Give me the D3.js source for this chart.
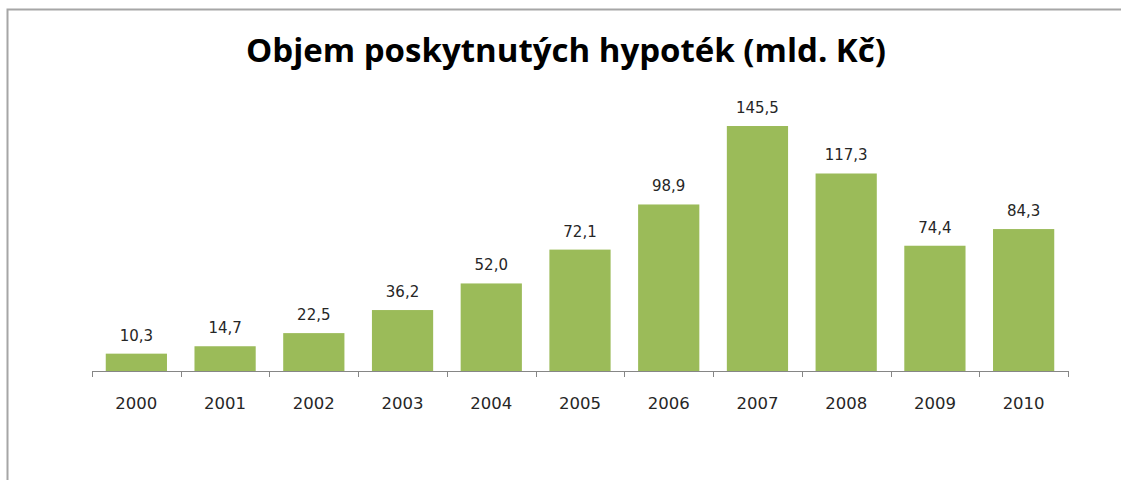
<!DOCTYPE html>
<html>
<head>
<meta charset="utf-8">
<script src="https://cdn.jsdelivr.net/npm/d3@7"></script>
<style>
  body { margin: 0; background: #fff; }
  svg { display: block; font-family: "DejaVu Sans", Verdana, sans-serif; }
</style>
</head>
<body>
<svg id="chart" width="1121" height="480"></svg>
<script>
const years = ['2000', '2001', '2002', '2003', '2004', '2005', '2006', '2007', '2008', '2009', '2010'];
const volumes = [10.3, 14.7, 22.5, 36.2, 52.0, 72.1, 98.9, 145.5, 117.3, 74.4, 84.3];
const title = 'Objem poskytnutých hypoték (mld. Kč)';

const svg = d3.select('#chart');

// Chart frame (right and bottom edges fall outside the picture)
svg.append('rect')
  .attr('x', 7.5)
  .attr('y', 9.5)
  .attr('width', 1130)
  .attr('height', 490)
  .attr('fill', '#fff')
  .attr('stroke', '#a6a6a6')
  .attr('stroke-width', 2);

svg.append('text')
  .attr('x', 566)
  .attr('y', 62)
  .attr('text-anchor', 'middle')
  .attr('font-family', '"Open Sans", "Noto Sans", sans-serif')
  .attr('font-size', 33)
  .attr('font-weight', 'bold')
  .attr('fill', '#000')
  .text(title);

const x = d3.scaleBand()
  .domain(years)
  .range([92, 1068])
  .paddingInner(0.31)
  .paddingOuter(0.155);

const y = d3.scaleLinear()
  .domain([0, 160])
  .range([371, 101.6]);

let fmt = v => d3.format('.1f')(v).replace('.', ',');

svg.selectAll('rect.bar')
  .data(volumes)
  .enter()
  .append('rect')
    .attr('class', 'bar')
    .attr('x', (d, i) => x(years[i]))
    .attr('y', d => y(d))
    .attr('width', x.bandwidth())
    .attr('height', d => y(0) - y(d))
    .attr('fill', '#9bbb59');

svg.selectAll('text.value')
  .data(volumes)
  .enter()
  .append('text')
    .attr('class', 'value')
    .attr('x', (d, i) => x(years[i]) + x.bandwidth() / 2)
    .attr('y', d => y(d) - 13)
    .attr('text-anchor', 'middle')
    .attr('font-size', 15)
    .attr('fill', '#262626')
    .text(fmt);

// Category axis with ticks between the bars
const axis = svg.append('g');
axis.append('line')
  .attr('x1', 92).attr('x2', 1068)
  .attr('y1', 371.5).attr('y2', 371.5)
  .attr('stroke', '#868686');

axis.selectAll('line.tick')
  .data(d3.range(years.length + 1))
  .enter()
  .append('line')
    .attr('class', 'tick')
    .attr('x1', i => Math.round(92 + i * (1068 - 92) / years.length) + 0.5)
    .attr('x2', i => Math.round(92 + i * (1068 - 92) / years.length) + 0.5)
    .attr('y1', 371)
    .attr('y2', 377)
    .attr('stroke', '#868686');

axis.selectAll('text.year')
  .data(years)
  .enter()
  .append('text')
    .attr('class', 'year')
    .attr('x', d => x(d) + x.bandwidth() / 2)
    .attr('y', 409)
    .attr('text-anchor', 'middle')
    .attr('font-size', 16.5)
    .attr('fill', '#262626')
    .text(d => d);
</script>
</body>
</html>
